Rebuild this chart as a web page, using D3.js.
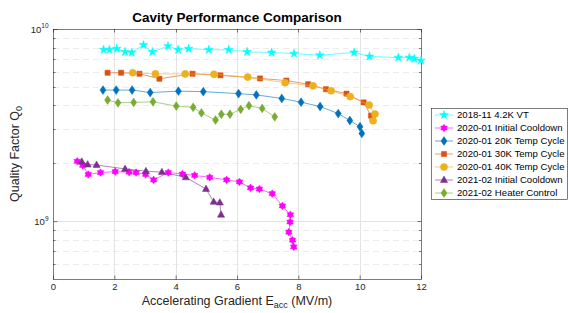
<!DOCTYPE html>
<html><head><meta charset="utf-8">
<script src="https://cdn.jsdelivr.net/npm/d3@7"></script>
<style>body{margin:0;background:#fff;}svg{display:block;font-family:"Liberation Sans",Arial,sans-serif;}</style>
</head><body><svg id="c" width="568" height="313"></svg>
<script>
const seriesNames = ["2018-11 4.2K VT","2020-01 Initial Cooldown","2020-01 20K Temp Cycle","2020-01 30K Temp Cycle","2020-01 40K Temp Cycle","2021-02 Initial Cooldown","2021-02 Heater Control"];
const seriesColors = ["#00FFFF","#FF00FF","#0072BD","#D95319","#EDB120","#7E2F8E","#77AC30"];
const seriesMarkers = ["star","hexagram","diamond","square","circle","triangle","diamond"];

const vt42_x = [1.65,1.84,2.08,2.35,2.57,2.95,3.24,3.75,4.08,4.42,5.08,5.73,6.33,7.13,7.86,8.70,9.82,10.32,11.26,11.62,11.78,12.0];
const vt42_y = [7.8e9,7.8e9,7.9e9,7.6e9,7.55e9,8.25e9,7.6e9,8.15e9,7.8e9,7.9e9,7.8e9,7.8e9,7.6e9,7.55e9,7.45e9,7.3e9,7.55e9,7.2e9,7.1e9,7.1e9,7.0e9,6.85e9];

const ic20_x = [0.79,0.97,1.15,1.55,2.03,2.48,2.71,3.02,3.28,3.76,4.22,4.62,5.11,5.66,6.08,6.44,6.73,7.15,7.48,7.74,7.73,7.69,7.81,7.85];
const ic20_y = [2.05e9,1.95e9,1.75e9,1.79e9,1.81e9,1.80e9,1.79e9,1.75e9,1.64e9,1.79e9,1.76e9,1.73e9,1.69e9,1.64e9,1.60e9,1.49e9,1.47e9,1.39e9,1.20e9,1.08e9,0.99e9,0.876e9,0.796e9,0.735e9];

const k20_x = [1.63,2.06,2.58,3.17,4.09,4.90,6.05,6.63,7.46,8.09,8.71,9.30,9.68,10.01,10.07];
const k20_y = [4.81e9,4.81e9,4.81e9,4.67e9,4.75e9,4.72e9,4.61e9,4.54e9,4.35e9,4.16e9,3.95e9,3.63e9,3.34e9,3.10e9,2.86e9];

const k30_x = [1.78,2.22,2.82,3.47,4.55,5.46,6.75,7.61,8.32,8.90,9.57,10.13,10.37,10.42];
const k30_y = [5.92e9,5.92e9,5.85e9,5.51e9,5.85e9,5.74e9,5.53e9,5.39e9,5.16e9,4.86e9,4.61e9,4.15e9,3.54e9,3.40e9];

const k40_x = [2.60,3.34,4.31,5.25,6.35,7.57,8.48,9.07,9.69,10.31,10.50,10.44];
const k40_y = [5.92e9,5.84e9,5.84e9,5.81e9,5.62e9,5.25e9,5.06e9,4.77e9,4.45e9,4.02e9,3.61e9,3.33e9];

const ic21_x = [0.94,1.13,1.42,2.35,3.03,3.55,4.33,4.99,5.24,5.44,5.48];
const ic21_y = [2.04e9,1.97e9,1.96e9,1.87e9,1.82e9,1.80e9,1.69e9,1.47e9,1.26e9,1.25e9,1.08e9];

const hc_x = [1.78,2.12,2.63,3.26,4.02,4.57,4.84,5.30,5.49,5.77,6.12,6.39,6.82,7.23];
const hc_y = [4.27e9,4.13e9,4.15e9,4.18e9,3.97e9,3.91e9,3.66e9,3.36e9,3.60e9,3.60e9,3.82e9,3.99e9,3.86e9,3.49e9];

const xTicks = [0,2,4,6,8,10,12];
const yTicks = [1e9,1e10];
const yTickExp = ["9","10"];

const seriesX = [vt42_x,ic20_x,k20_x,k30_x,k40_x,ic21_x,hc_x];
const seriesY = [vt42_y,ic20_y,k20_y,k30_y,k40_y,ic21_y,hc_y];

const svg = d3.select("#c");
const L=53,R=421,T=29,B=279;
const x = d3.scaleLinear().domain([0,12]).range([L,R]);
const y = d3.scaleLog().domain([5e8,1e10]).range([B,T]);
const gridCol="#e3e3e3", axCol="#262626";

const minors=[];
for(let m=6;m<=9;m++) minors.push(m*1e8);
for(let m=2;m<=9;m++) minors.push(m*1e9);
svg.append("g").selectAll("line").data(minors).join("line")
  .attr("x1",L).attr("x2",R).attr("y1",d=>Math.round(y(d))+0.5).attr("y2",d=>Math.round(y(d))+0.5)
  .attr("stroke","#ececec").attr("stroke-width",1).attr("stroke-dasharray","6,4");
svg.append("g").selectAll("line").data(xTicks.slice(1,-1)).join("line")
  .attr("x1",d=>Math.round(x(d))+0.5).attr("x2",d=>Math.round(x(d))+0.5).attr("y1",T).attr("y2",B)
  .attr("stroke",gridCol).attr("stroke-width",1);
svg.append("line").attr("x1",L).attr("x2",R).attr("y1",Math.round(y(1e9))+0.5).attr("y2",Math.round(y(1e9))+0.5)
  .attr("stroke",gridCol).attr("stroke-width",1);

svg.append("rect").attr("x",L+0.5).attr("y",T+0.5).attr("width",R-L).attr("height",B-T)
  .attr("fill","none").attr("stroke",axCol).attr("stroke-width",0.6);

const xAxis = d3.axisBottom(x).tickValues(xTicks).tickSize(-4).tickPadding(4).tickFormat(d3.format("d"));
const gx = svg.append("g").attr("transform",`translate(0,${B+0.5})`).call(xAxis);
gx.select(".domain").remove();
gx.selectAll("line").attr("stroke",axCol).attr("stroke-width",0.6);
gx.selectAll("text").attr("font-size","9.5px").attr("fill",axCol).attr("font-family","Liberation Sans, Arial");

const yAxis = d3.axisLeft(y).tickValues(yTicks).tickSize(-4).tickPadding(5).tickFormat(()=>"");
const gy = svg.append("g").attr("transform",`translate(${L+0.5},0)`).call(yAxis);
gy.select(".domain").remove();
gy.selectAll("line").attr("stroke",axCol).attr("stroke-width",0.6);
gy.selectAll(".tick text").each(function(d,i){
  const t=d3.select(this).attr("font-family","Liberation Sans, Arial").attr("fill",axCol).attr("font-size","9.5px").attr("dy","0.4em");
  t.text("10");
  t.append("tspan").attr("font-size","6.5px").attr("dy","-0.75em").text(yTickExp[i]);
});
const mt = svg.append("g");
minors.forEach(m=>{
  const yy=Math.round(y(m))+0.5;
  mt.append("line").attr("x1",L).attr("x2",L+2.5).attr("y1",yy).attr("y2",yy).attr("stroke",axCol).attr("stroke-width",0.6);
  mt.append("line").attr("x1",R-2).attr("x2",R+0.5).attr("y1",yy).attr("y2",yy).attr("stroke",axCol).attr("stroke-width",0.6);
});
yTicks.forEach(m=>{
  const yy=Math.round(y(m))+0.5;
  mt.append("line").attr("x1",R-3.5).attr("x2",R+0.5).attr("y1",yy).attr("y2",yy).attr("stroke",axCol).attr("stroke-width",0.6);
});
xTicks.forEach(v=>{
  const xx=Math.round(x(v))+0.5;
  mt.append("line").attr("x1",xx).attr("x2",xx).attr("y1",T).attr("y2",T+3.5).attr("stroke",axCol).attr("stroke-width",0.6);
});

function markerPath(type){
  switch(type){
    case "star": return d3.symbol(d3.symbolStar,24)();
    case "square": return "M-2.6,-2.6H2.6V2.6H-2.6Z";
    case "circle": return d3.symbol(d3.symbolCircle,40)();
    case "diamond": return "M0,-4.4L3,0L0,4.4L-3,0Z";
    case "triangle": return "M0,-3.9L3.6,2.5H-3.6Z";
    case "hexagram": {
      const pts=[]; const ro=3.8,ri=2.4;
      for(let k=0;k<12;k++){const a=Math.PI/6*k - Math.PI/2; const r=k%2?ri:ro; pts.push([r*Math.cos(a),r*Math.sin(a)]);}
      return "M"+pts.map(p=>p[0].toFixed(2)+","+p[1].toFixed(2)).join("L")+"Z";
    }
  }
}

const line = d3.line().x(d=>x(d[0])).y(d=>y(d[1]));
const plot = svg.append("g");
seriesNames.forEach((nm,i)=>{
  const pts = seriesX[i].map((v,j)=>[v,seriesY[i][j]]);
  plot.append("path").datum(pts).attr("d",line).attr("fill","none")
    .attr("stroke",seriesColors[i]).attr("stroke-opacity",0.6).attr("stroke-width",1);
  plot.append("g").selectAll("path").data(pts).join("path")
    .attr("transform",d=>`translate(${x(d[0])},${y(d[1])})`)
    .attr("d",markerPath(seriesMarkers[i])).attr("fill",seriesColors[i]).attr("stroke",seriesColors[i]).attr("stroke-width",0.5);
});

svg.append("text").attr("x",(L+R)/2).attr("y",22).attr("text-anchor","middle")
  .attr("font-size","13.5px").attr("font-weight","bold").attr("fill","#000").text("Cavity Performance Comparison");

const xlParts=[["Accelerating Gradient E",12.5,0],["acc",9,3],["\u00a0(MV/m)",12.5,0]];
const xlG = svg.append("g");
let widths=[];
const xlNodes = xlParts.map(p=>{
  const t=xlG.append("text").attr("y",305+p[2]).attr("font-size",p[1]+"px").attr("fill",axCol).text(p[0]);
  widths.push(t.node().getComputedTextLength()); return t;});
let total=d3.sum(widths), cx=(L+R)/2-total/2;
xlNodes.forEach((t,i)=>{t.attr("x",cx); cx+=widths[i];});

const ylParts=[["Quality Factor Q",12.5,0],["0",9,3]];
const ylG = svg.append("g").attr("transform",`translate(19,${(T+B)/2}) rotate(-90)`);
let yw=[];
const ylNodes = ylParts.map(p=>{
  const t=ylG.append("text").attr("y",p[2]).attr("font-size",p[1]+"px").attr("fill",axCol).text(p[0]);
  yw.push(t.node().getComputedTextLength()); return t;});
let ytot=d3.sum(yw), cy=-ytot/2;
ylNodes.forEach((t,i)=>{t.attr("x",cy); cy+=yw[i];});

const lg = svg.append("g");
lg.append("rect").attr("x",431.5).attr("y",108.5).attr("width",136).attr("height",91).attr("fill","#fff").attr("stroke",axCol).attr("stroke-width",0.6);
seriesNames.forEach((nm,i)=>{
  const yy = 115 + i*13.0;
  lg.append("line").attr("x1",435).attr("x2",453).attr("y1",yy).attr("y2",yy).attr("stroke",seriesColors[i]).attr("stroke-opacity",0.6);
  lg.append("path").attr("transform",`translate(444,${yy})`).attr("d",markerPath(seriesMarkers[i])).attr("fill",seriesColors[i]).attr("stroke",seriesColors[i]).attr("stroke-width",0.5);
  lg.append("text").attr("x",457).attr("y",yy).attr("dy","0.35em").attr("font-size","9.6px").attr("fill","#000").text(nm);
});
</script></body></html>
